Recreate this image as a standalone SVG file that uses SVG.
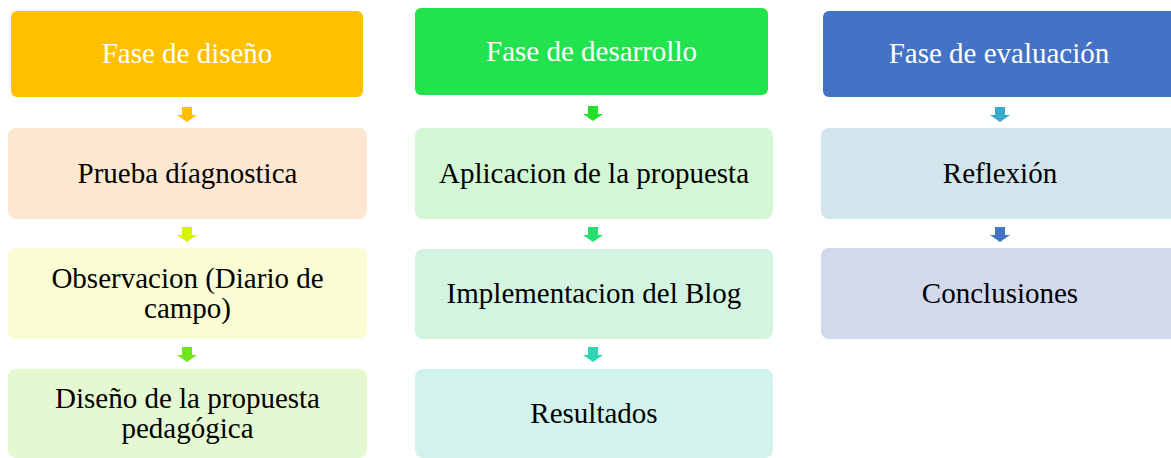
<svg xmlns="http://www.w3.org/2000/svg" width="1171" height="458" viewBox="0 0 1171 458">
<style>
text{font-family:'Times New Roman','Liberation Serif',Tinos,'DejaVu Serif',serif;font-size:29px;text-anchor:middle}
.h{fill:#FFFFFF}
.t{fill:#000000}
</style>
<defs>
<path id="arr" d="M-5,0 h10 v8 h5 l-10,7 l-10,-7 h5 z"/>
</defs>
<rect width="1171" height="458" fill="#FFFFFF"/>
<g id="connectors">
<use href="#arr" x="187" y="107" fill="#FFC000"/>
<use href="#arr" x="187" y="227" fill="#D6F500"/>
<use href="#arr" x="187" y="347" fill="#6EE81C"/>
<use href="#arr" x="593" y="106" fill="#22E02E"/>
<use href="#arr" x="593" y="227" fill="#27DD6B"/>
<use href="#arr" x="593" y="347" fill="#2ED6B5"/>
<use href="#arr" x="1000" y="107" fill="#38AACC"/>
<use href="#arr" x="1000" y="227" fill="#4472C4"/>
</g>
<g id="n1"><rect x="11" y="11" width="352" height="86" rx="6" fill="#FFC000"/><text class="h" x="187" y="63">Fase de diseño</text></g>
<g id="n2"><rect x="8" y="128" width="359" height="91" rx="8" fill="#FEE7D1"/><text class="t" x="187.5" y="183">Prueba díagnostica</text></g>
<g id="n3"><rect x="8" y="248" width="359" height="91" rx="8" fill="#FAFCD3"/><text class="t" x="187.5" y="288">Observacion (Diario de</text><text class="t" x="187.5" y="318">campo)</text></g>
<g id="n4"><rect x="8" y="369" width="359" height="89" rx="8" fill="#E4F8D1"/><text class="t" x="187.5" y="408">Diseño de la propuesta</text><text class="t" x="187.5" y="438">pedagógica</text></g>
<g id="n5"><rect x="415" y="8" width="353" height="87" rx="6" fill="#22E34E"/><text class="h" x="591.5" y="61">Fase de desarrollo</text></g>
<g id="n6"><rect x="415" y="128" width="358" height="91" rx="8" fill="#D3F7D5"/><text class="t" x="594" y="183">Aplicacion de la propuesta</text></g>
<g id="n7"><rect x="415" y="249" width="358" height="90" rx="8" fill="#D2F4E1"/><text class="t" x="594" y="303">Implementacion del Blog</text></g>
<g id="n8"><rect x="415" y="369" width="358" height="89" rx="8" fill="#D2F2EC"/><text class="t" x="594" y="423">Resultados</text></g>
<g id="n9"><rect x="823" y="11" width="356" height="86" rx="6" fill="#4472C4"/><text class="h" x="999" y="63">Fase de evaluación</text></g>
<g id="n10"><rect x="821" y="128" width="358" height="91" rx="8" fill="#D2E5EC"/><text class="t" x="1000" y="183">Reflexión</text></g>
<g id="n11"><rect x="821" y="248" width="358" height="91" rx="8" fill="#D3D9EC"/><text class="t" x="1000" y="303">Conclusiones</text></g>
</svg>
